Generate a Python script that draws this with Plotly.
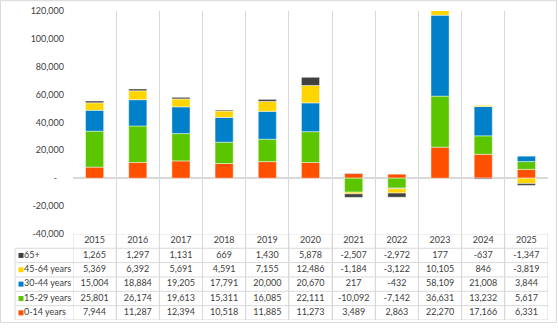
import plotly.graph_objects as go

years = ["2015", "2016", "2017", "2018", "2019", "2020", "2021", "2022", "2023", "2024", "2025"]

# Net change by age band (stack order: bottom to top)
age_0_14 = [7944, 11287, 12394, 10518, 11885, 11273, 3489, 2863, 22270, 17166, 6331]
age_15_29 = [25801, 26174, 19613, 15311, 16085, 22111, -10092, -7142, 36631, 13232, 5617]
age_30_44 = [15004, 18884, 19205, 17791, 20000, 20670, 217, -432, 58109, 21008, 3844]
age_45_64 = [5369, 6392, 5691, 4591, 7155, 12486, -1184, -3122, 10105, 846, -3819]
age_65_plus = [1265, 1297, 1131, 669, 1430, 5878, -2507, -2972, 177, -637, -1347]

series_names = ["0-14 years", "15-29 years", "30-44 years", "45-64 years", "65+"]
series_values = [age_0_14, age_15_29, age_30_44, age_45_64, age_65_plus]
series_colors = ["#FF5000", "#5BC500", "#0080C8", "#FFD500", "#404040"]

y_ticks = [120000, 100000, 80000, 60000, 40000, 20000, 0, -20000, -40000]

W, H = 558, 330
M_L, M_R, M_T, M_B = 15, 10, 11, 5
FONT = "Lato"
TXT = "#404040"
GRID = "#D9D9D9"
NBSP = "\u00a0"

plot_w = W - M_L - M_R
plot_h = H - M_T - M_B
label_col = 58          # width in px of the row-label column of the table
table_px = 87.5         # height in px of the data table (header + 5 rows)
split = table_px / plot_h
n_rows = len(series_names)
n_cols = len(years)

HEADER = "header"
# table rows from top to bottom: years header, then the series (last series first)
rows = list(zip(series_names, series_values, series_colors))[::-1]
row_names = [n for n, _, _ in rows]

fig = go.Figure()

# stacked bars
for name, vals, color in zip(series_names, series_values, series_colors):
    fig.add_trace(go.Bar(
        x=years, y=vals, name=name,
        marker=dict(color=color, line=dict(color="rgba(255,255,255,0.45)", width=1)),
        showlegend=False, hoverinfo="x+y+name",
    ))

txt_font = dict(family=FONT, size=9, color=TXT)

# table header: the years
fig.add_trace(go.Scatter(
    x=years, y=[HEADER] * n_cols, text=years,
    mode="text", textfont=txt_font, textposition="middle center",
    xaxis="x", yaxis="y2", showlegend=False, hoverinfo="skip", cliponaxis=False,
))

# table body: one row of values per series
for name, vals, _ in rows:
    fig.add_trace(go.Scatter(
        x=years, y=[name] * n_cols, text=[f"{v:,}" for v in vals],
        mode="text", textfont=txt_font, textposition="middle center",
        xaxis="x", yaxis="y2", showlegend=False, hoverinfo="skip", cliponaxis=False,
    ))

# row labels with their colour keys
fig.add_trace(go.Scatter(
    x=[6] * n_rows, y=row_names,
    mode="markers",
    marker=dict(symbol="square", size=5, color=[c for _, _, c in rows], line=dict(width=0)),
    xaxis="x3", yaxis="y2", showlegend=False, hoverinfo="skip", cliponaxis=False,
))
fig.add_trace(go.Scatter(
    x=[9] * n_rows, y=row_names, text=row_names,
    mode="text", textfont=txt_font, textposition="middle right",
    xaxis="x3", yaxis="y2", showlegend=False, hoverinfo="skip", cliponaxis=False,
))

# table cell borders, placed on the category positions of the two axes
border = dict(color=GRID, width=1)
shapes = []
for i in range(n_cols + 1):
    shapes.append(dict(type="line", xref="x", yref="paper",
                       x0=i - 0.5, x1=i - 0.5, y0=0, y1=split, line=border))
shapes.append(dict(type="line", xref="x", yref="y2",
                   x0=-0.5, x1=n_cols - 0.5, y0=-0.5, y1=-0.5, line=border))
for j in range(1, n_rows + 2):
    shapes.append(dict(type="line", xref="paper", yref="y2",
                       x0=0, x1=1, y0=j - 0.5, y1=j - 0.5, line=border))
shapes.append(dict(type="line", xref="paper", yref="y2",
                   x0=0, x1=0, y0=0.5, y1=n_rows + 0.5, line=border))
# chart frame
shapes.append(dict(
    type="rect", xref="paper", yref="paper",
    x0=(0.5 - M_L) / plot_w, x1=(W - 1.5 - M_L) / plot_w,
    y0=-(M_B - 2.5) / plot_h, y1=(H - M_B - 0.5) / plot_h,
    line=border, fillcolor="rgba(0,0,0,0)",
))


def fmt_tick(v):
    if v == 0:
        return "-" + NBSP * 3
    return f"{v:,}"


fig.update_layout(
    width=W, height=H,
    margin=dict(l=M_L, r=M_R, t=M_T, b=M_B),
    barmode="relative",
    bargap=0.58,
    plot_bgcolor="rgba(0,0,0,0)",
    paper_bgcolor="white",
    font=txt_font,
    xaxis=dict(
        domain=[label_col / plot_w, 1],
        type="category", categoryarray=years, categoryorder="array",
        range=[-0.5, n_cols - 0.5],
        tickson="boundaries",
        showgrid=True, gridcolor=GRID, gridwidth=1,
        showticklabels=False, ticks="",
        showline=False, zeroline=False, fixedrange=True,
    ),
    yaxis=dict(
        domain=[split, 1],
        range=[-40000, 120000],
        tickvals=y_ticks,
        ticktext=[fmt_tick(v) for v in y_ticks],
        showgrid=False,
        zeroline=True, zerolinecolor=GRID, zerolinewidth=2,
        ticks="", ticklabelstandoff=8,
        tickfont=txt_font, fixedrange=True,
    ),
    yaxis2=dict(
        domain=[0, split], anchor="x",
        type="category", categoryarray=[HEADER] + row_names, categoryorder="array",
        range=[n_rows + 0.5, -0.5],
        showgrid=False, showticklabels=False, ticks="", zeroline=False, fixedrange=True,
    ),
    xaxis3=dict(
        domain=[0, label_col / plot_w], anchor="y2",
        range=[0, label_col],
        showgrid=False, showticklabels=False, ticks="", zeroline=False, fixedrange=True,
    ),
    shapes=shapes,
)

fig.write_html("out.html")
